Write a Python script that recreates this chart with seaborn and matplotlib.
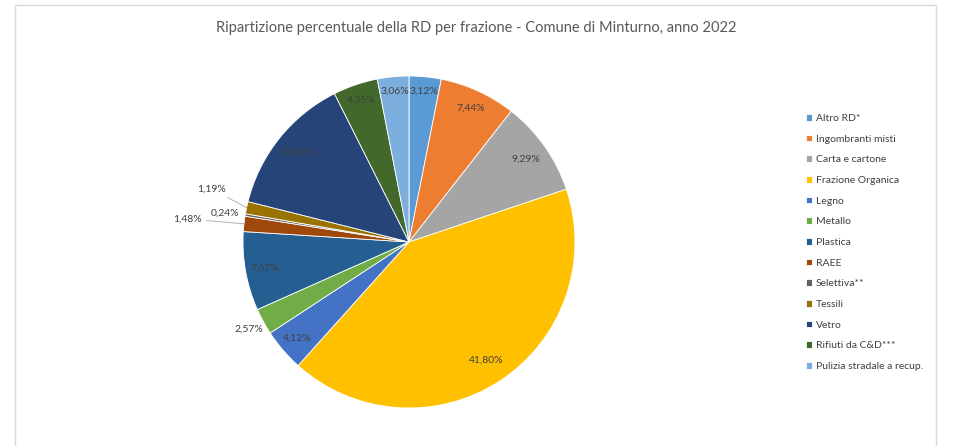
import matplotlib.pyplot as plt
import numpy as np
import seaborn as sns
from matplotlib.patches import Rectangle

categories = [
    "Altro RD*", "Ingombranti misti", "Carta e cartone", "Frazione Organica",
    "Legno", "Metallo", "Plastica", "RAEE", "Selettiva**", "Tessili",
    "Vetro", "Rifiuti da C&D***", "Pulizia stradale a recup.",
]
values = [3.12, 7.44, 9.29, 41.80, 4.12, 2.57, 7.67, 1.48, 0.24, 1.19, 13.68, 4.35, 3.06]
colors = [
    "#5B9BD5", "#ED7D31", "#A5A5A5", "#FFC000", "#4472C4", "#70AD47", "#255E91",
    "#9E480E", "#636363", "#997300", "#264478", "#43682B", "#7CAFDD",
]

# label radius (in pie radii), angle shift in degrees, leader line
label_default = 0.88
label_overrides = {
    "Altro RD*": (0.91, 0, False),
    "Pulizia stradale a recup.": (0.91, 0, False),
    "Rifiuti da C&D***": (0.90, 0, False),
    "Vetro": (0.87, 0, False),
    "Carta e cartone": (0.86, 0, False),
    "Frazione Organica": (0.85, 0, False),
    "Legno": (0.89, 0, False),
    "Ingombranti misti": (0.89, 0, False),
    "Metallo": (1.10, 0, False),
    "RAEE": (1.34, 0.3, True),
    "Selettiva**": (1.12, 0.4, False),
    "Tessili": (1.23, -3.1, True),
}

sns.set_theme(style="white")
plt.rcParams["font.family"] = ["Lato", "DejaVu Sans"]

fig = plt.figure(figsize=(9.59, 4.46), dpi=100)
cx, cy, r = 409, 242, 166
ax = fig.add_axes([(cx - r) / 959, (446 - cy - r) / 446, 2 * r / 959, 2 * r / 446])

wedges, _ = ax.pie(
    values,
    colors=sns.color_palette(colors),
    startangle=90,
    counterclock=False,
    wedgeprops=dict(edgecolor="white", linewidth=0.6),
)
ax.set_xlim(-1, 1)
ax.set_ylim(-1, 1)

for w, cat, v in zip(wedges, categories, values):
    rad, shift, leader = label_overrides.get(cat, (label_default, 0, False))
    mid = np.deg2rad((w.theta1 + w.theta2) / 2)
    ang = mid + np.deg2rad(shift)
    txt = f"{v:.2f}".replace(".", ",") + "%"
    pos = (rad * np.cos(ang), rad * np.sin(ang))
    if leader:
        ax.annotate(
            txt, xy=(np.cos(mid), np.sin(mid)), xytext=pos,
            ha="center", va="center", fontsize=7.5, color="#404040",
            arrowprops=dict(arrowstyle="-", color="#a6a6a6", lw=0.6, shrinkA=1, shrinkB=0),
        )
    else:
        ax.text(pos[0], pos[1], txt, ha="center", va="center", fontsize=7.5, color="#404040")

fig.text(476 / 959, 1 - 28 / 446, "Ripartizione percentuale della RD per frazione - Comune di Minturno, anno 2022",
         ha="center", va="center", fontsize=10.5, color="#595959")

leg = fig.legend(
    wedges, categories, loc="upper left", bbox_to_anchor=(806 / 959, 1 - 114 / 446),
    frameon=False, fontsize=7.5, labelspacing=1.12, handlelength=0.6, handleheight=0.6,
    handletextpad=0.35, borderpad=0, borderaxespad=0,
)
for t in leg.get_texts():
    t.set_color("#404040")

fig.add_artist(Rectangle((15 / 959, -0.1), (936 - 15) / 959, 1.1 - 5 / 446,
                         transform=fig.transFigure, fill=False, edgecolor="#d9d9d9", lw=1))

fig.savefig("out.png", dpi=100)
